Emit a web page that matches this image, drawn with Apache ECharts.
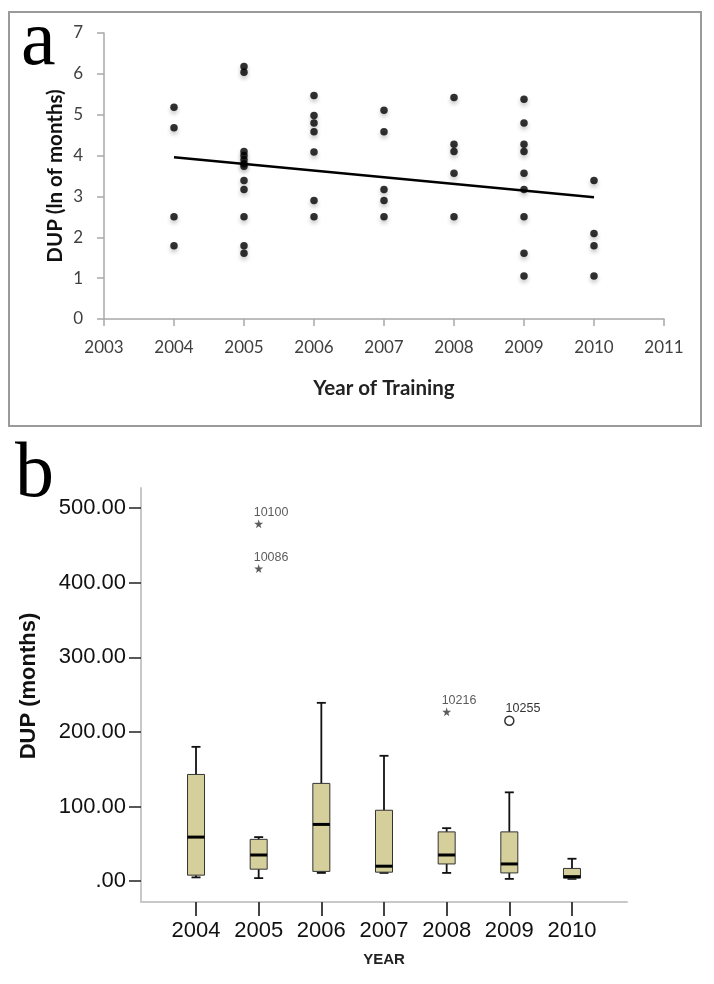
<!DOCTYPE html>
<html>
<head>
<meta charset="utf-8">
<script src="https://cdn.jsdelivr.net/npm/echarts@6/dist/echarts.min.js"></script>
<style>
html,body{margin:0;padding:0;background:#fff;}
#chart{width:714px;height:984px;}
</style>
</head>
<body>
<div id="chart"></div>
<script>
// ---- Panel a: ln(DUP) by year of training ----
var yearTicksA = [2003, 2004, 2005, 2006, 2007, 2008, 2009, 2010, 2011];
var lnDup2004 = [5.18, 4.68, 2.50, 1.79];
var lnDup2005 = [6.18, 6.04, 4.10, 4.00, 3.90, 3.80, 3.74, 3.39, 3.17, 2.50, 1.79, 1.61];
var lnDup2006 = [5.47, 4.98, 4.80, 4.58, 4.09, 2.90, 2.50];
var lnDup2007 = [5.11, 4.58, 3.17, 2.90, 2.50];
var lnDup2008 = [5.42, 4.28, 4.10, 3.57, 2.50];
var lnDup2009 = [5.38, 4.80, 4.28, 4.10, 3.57, 3.17, 2.50, 1.61, 1.05];
var lnDup2010 = [3.39, 2.09, 1.79, 1.05];
var trendYears = [2004, 2010];
var trendValues = [3.96, 2.98];

// ---- Panel b: DUP (months) box plots ----
var boxYears = [2004, 2005, 2006, 2007, 2008, 2009, 2010];
var boxMin = [5, 4, 11, 11, 11, 3, 3];
var boxQ1 = [8, 16, 13, 12, 23, 11, 4];
var boxMed = [59, 35, 76, 20, 35, 23, 6];
var boxQ3 = [143, 56, 131, 95, 66, 66, 17];
var boxMax = [180, 59, 239, 168, 71, 119, 30];
var starYears = [2005, 2005, 2008];
var starValues = [479, 419, 227];
var starIds = ['10100', '10086', '10216'];
var circleYears = [2009];
var circleValues = [215];
var circleIds = ['10255'];
var yTicksB = [0, 100, 200, 300, 400, 500];

var lnGroups = [lnDup2004, lnDup2005, lnDup2006, lnDup2007, lnDup2008, lnDup2009, lnDup2010];
var scatterData = [];
lnGroups.forEach(function (arr, i) {
  arr.forEach(function (v) { scatterData.push([2004 + i, v]); });
});
var trendData = trendYears.map(function (y, i) { return [y, trendValues[i]]; });
var boxData = boxYears.map(function (y, i) {
  return [y, boxMin[i], boxQ1[i], boxMed[i], boxQ3[i], boxMax[i]];
});
var starData = starYears.map(function (y, i) { return {value: [y, starValues[i]], id: starIds[i]}; });
var circleData = circleYears.map(function (y, i) { return {value: [y, circleValues[i]], id: circleIds[i]}; });

var starPath = 'path://M50,0 L61,35 L98,35 L68,57 L79,91 L50,70 L21,91 L32,57 L2,35 L39,35 Z';

var chart = echarts.init(document.getElementById('chart'), null, {renderer: 'canvas'});

var option = {
  backgroundColor: '#ffffff',
  animation: false,
  grid: [
    {left: 104, top: 33, width: 560, height: 286},
    {left: 141, top: 488, width: 486, height: 414}
  ],
  xAxis: [
    {
      gridIndex: 0, type: 'value', min: 2003, max: 2011, interval: 1,
      axisLine: {show: true, onZero: false, lineStyle: {color: '#a8a8a8', width: 1.5}},
      axisTick: {show: true, length: 7, lineStyle: {color: '#a8a8a8', width: 1.5}},
      axisLabel: {margin: 20, color: '#404040', fontFamily: 'Lato', fontSize: 17,
        formatter: function (v) { return String(v); }},
      splitLine: {show: false}
    },
    {
      gridIndex: 1, type: 'value', min: 2003.122, max: 2010.878,
      axisLine: {show: true, onZero: false, lineStyle: {color: '#c8c8c8', width: 2}},
      axisTick: {show: true, length: 14, customValues: boxYears, lineStyle: {color: '#444', width: 2}},
      axisLabel: {margin: 18, color: '#111', fontFamily: 'Liberation Sans', fontSize: 22,
        customValues: boxYears, formatter: function (v) { return String(v); }},
      splitLine: {show: false}
    }
  ],
  yAxis: [
    {
      gridIndex: 0, type: 'value', min: 0, max: 7, interval: 1,
      axisLine: {show: true, onZero: false, lineStyle: {color: '#a8a8a8', width: 1.5}},
      axisTick: {show: true, length: 7, lineStyle: {color: '#a8a8a8', width: 1.5}},
      axisLabel: {margin: 21, color: '#404040', fontFamily: 'Lato', fontSize: 17},
      splitLine: {show: false}
    },
    {
      gridIndex: 1, type: 'value', min: -28, max: 527,
      axisLine: {show: true, onZero: false, lineStyle: {color: '#c8c8c8', width: 2}},
      axisTick: {show: true, length: 12, customValues: yTicksB, lineStyle: {color: '#222', width: 1.5}},
      axisLabel: {margin: 15, color: '#111', fontFamily: 'Liberation Sans', fontSize: 22,
        customValues: yTicksB,
        formatter: function (v) { return v === 0 ? '.00' : v.toFixed(2); }},
      splitLine: {show: false}
    }
  ],
  series: [
    {
      type: 'scatter', xAxisIndex: 0, yAxisIndex: 0, data: scatterData,
      symbol: 'circle', symbolSize: 7.5,
      itemStyle: {color: '#000', shadowColor: 'rgba(0,0,0,0.28)', shadowBlur: 4, shadowOffsetY: 3},
      z: 3
    },
    {
      type: 'line', xAxisIndex: 0, yAxisIndex: 0, data: trendData,
      showSymbol: false, symbol: 'none',
      lineStyle: {color: '#000', width: 2.4},
      z: 4
    },
    {
      type: 'custom', xAxisIndex: 1, yAxisIndex: 1, data: boxData,
      encode: {x: 0, y: [1, 2, 3, 4, 5]},
      renderItem: function (params, api) {
        var x = api.value(0);
        var pMin = api.coord([x, api.value(1)]);
        var pQ1 = api.coord([x, api.value(2)]);
        var pMed = api.coord([x, api.value(3)]);
        var pQ3 = api.coord([x, api.value(4)]);
        var pMax = api.coord([x, api.value(5)]);
        var cx = pMin[0];
        var hw = 8.5, cap = 4.5;
        var lineStyle = {stroke: '#111', lineWidth: 1.8};
        return {
          type: 'group',
          children: [
            {type: 'line', shape: {x1: cx, y1: pQ3[1], x2: cx, y2: pMax[1]}, style: lineStyle},
            {type: 'line', shape: {x1: cx - cap, y1: pMax[1], x2: cx + cap, y2: pMax[1]}, style: lineStyle},
            {type: 'line', shape: {x1: cx, y1: pMin[1], x2: cx, y2: pQ1[1]}, style: lineStyle},
            {type: 'line', shape: {x1: cx - cap, y1: pMin[1], x2: cx + cap, y2: pMin[1]}, style: lineStyle},
            {type: 'rect', shape: {x: cx - hw, y: pQ3[1], width: hw * 2, height: pQ1[1] - pQ3[1]},
              style: {fill: '#d5cf9b', stroke: '#333', lineWidth: 1}},
            {type: 'line', shape: {x1: cx - hw, y1: pMed[1], x2: cx + hw, y2: pMed[1]},
              style: {stroke: '#000', lineWidth: 3}}
          ]
        };
      },
      z: 3
    },
    {
      type: 'scatter', xAxisIndex: 1, yAxisIndex: 1, data: starData,
      symbol: starPath, symbolSize: 9,
      itemStyle: {color: '#333'},
      label: {show: true, position: [-0.5, -7], align: 'left', verticalAlign: 'middle',
        fontFamily: 'Liberation Sans', fontSize: 12.5, color: '#333',
        formatter: function (p) { return p.data.id; }},
      z: 4
    },
    {
      type: 'scatter', xAxisIndex: 1, yAxisIndex: 1, data: circleData,
      symbol: 'circle', symbolSize: 9,
      itemStyle: {color: '#ffffff', borderColor: '#333333', borderWidth: 1.5, opacity: 1},
      label: {show: true, position: [1.5, -7], align: 'left', verticalAlign: 'middle',
        fontFamily: 'Liberation Sans', fontSize: 12.5, color: '#333',
        formatter: function (p) { return p.data.id; }},
      z: 4
    }
  ],
  graphic: [
    {type: 'rect', shape: {x: 9, y: 12, width: 692, height: 414},
      style: {fill: 'none', stroke: '#9a9a9a', lineWidth: 2}, z: 0},
    {type: 'text', x: 21, y: 44, style: {text: 'a', font: '78px "Liberation Serif"', fill: '#000',
      textAlign: 'left', textVerticalAlign: 'middle'}},
    {type: 'text', x: 15, y: 476, style: {text: 'b', font: '78px "Liberation Serif"', fill: '#000',
      textAlign: 'left', textVerticalAlign: 'middle'}},
    {type: 'text', x: 55, y: 176, rotation: Math.PI / 2,
      style: {text: 'DUP (ln of months)', font: 'bold 20.5px Lato', fill: '#111',
        textAlign: 'center', textVerticalAlign: 'middle'}},
    {type: 'text', x: 384, y: 388,
      style: {text: 'Year of Training', font: 'bold 20.5px Lato', fill: '#222',
        textAlign: 'center', textVerticalAlign: 'middle'}},
    {type: 'text', x: 29, y: 686, rotation: Math.PI / 2,
      style: {text: 'DUP (months)', font: 'bold 22px "Liberation Sans"', fill: '#111',
        textAlign: 'center', textVerticalAlign: 'middle'}},
    {type: 'text', x: 384, y: 960,
      style: {text: 'YEAR', font: 'bold 15px "Liberation Sans"', fill: '#222',
        textAlign: 'center', textVerticalAlign: 'middle'}}
  ]
};
chart.setOption(option);
</script>
</body>
</html>
